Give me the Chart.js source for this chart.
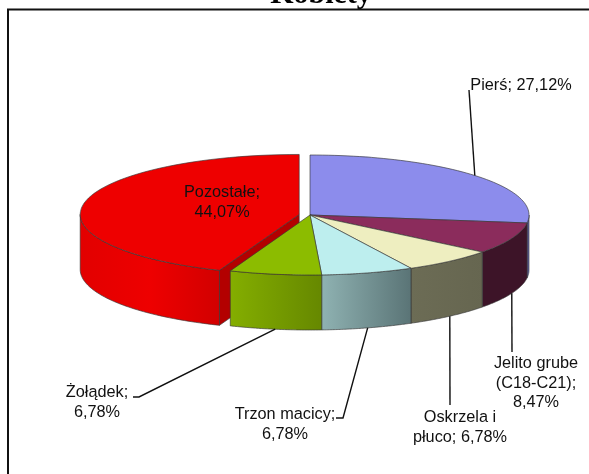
<!DOCTYPE html>
<html>
<head>
<meta charset="utf-8">
<style>
    html, body { margin: 0; padding: 0; background: #fff; overflow: hidden; }
    #wrap { width: 589px; height: 474px; }
</style>
<script src="https://cdn.jsdelivr.net/npm/chart.js@4"></script>
</head>
<body>
<div id="wrap"><canvas id="myChart" width="589" height="474"></canvas></div>
<script>
const categories = ["Pierś", "Jelito grube (C18-C21)", "Oskrzela i płuco", "Trzon macicy", "Żołądek", "Pozostałe"];
const values = [27.12, 8.47, 6.78, 6.78, 6.78, 44.07];
const labelLines = [
    ["Pierś; 27,12%"],
    ["Jelito grube", "(C18-C21);", "8,47%"],
    ["Oskrzela i", "płuco; 6,78%"],
    ["Trzon macicy;", "6,78%"],
    ["Żołądek;", "6,78%"],
    ["Pozostałe;", "44,07%"],
];
const topColors = ["#8c8cec", "#8b2c5c", "#eeeec0", "#bdeeee", "#8cbc00", "#ee0000"];
const wallColors = [
    ["#5e5ea0", "#5e5ea0"],
    ["#3d1428", "#3d1428"],
    ["#6c6c55", "#666650"],
    ["#8fb2b2", "#5a7476"],
    ["#84ae00", "#668800"],
    ["#e20000", "#ee0000", "#d20000"],
];

// screen geometry of the pie
const pie = { cx: 310, cy: 215, ry: 60, depth: 55, radius: 219 };
const explode = [0, 0, 0, 0, 0, 11];
const cutFace = "#b30000";
const edge = "rgba(55,55,55,0.65)";

// label centre x, first line y, leader start and optional elbow
const labelPlace = [
    { x: 521, y: 85, from: [469, 90] },
    { x: 536, y: 363, from: [512, 352] },
    { x: 460, y: 417, from: [450, 405] },
    { x: 285, y: 414, from: [336, 418], elbow: [343, 418] },
    { x: 97, y: 392, from: [133, 397], elbow: [139, 397] },
    { x: 222, y: 192 },
];

function shift(i, arc) {
    const mid = (arc.startAngle + arc.endAngle) / 2;
    return {
        x: Math.cos(mid) * explode[i],
        y: Math.sin(mid) * explode[i] * pie.ry / arc.outerRadius,
    };
}

function onPie(arc, s, angle, down) {
    return [
        pie.cx + s.x + Math.cos(angle) * arc.outerRadius,
        pie.cy + s.y + Math.sin(angle) * pie.ry + (down || 0),
    ];
}

function drawWall(ctx, i, arc) {
    const s = shift(i, arc);
    const a0 = Math.max(arc.startAngle, 0);
    const a1 = Math.min(arc.endAngle, Math.PI);
    if (a1 <= a0) return;

    const left = onPie(arc, s, a1);
    const right = onPie(arc, s, a0);
    const grad = ctx.createLinearGradient(left[0], 0, right[0], 0);
    const stops = wallColors[i];
    stops.forEach((c, n) => grad.addColorStop(n / (stops.length - 1), c));

    ctx.beginPath();
    for (let n = 0; n <= 60; n++) {
        const p = onPie(arc, s, a0 + (a1 - a0) * n / 60);
        n ? ctx.lineTo(p[0], p[1]) : ctx.moveTo(p[0], p[1]);
    }
    for (let n = 60; n >= 0; n--) {
        const p = onPie(arc, s, a0 + (a1 - a0) * n / 60, pie.depth);
        ctx.lineTo(p[0], p[1]);
    }
    ctx.closePath();
    ctx.fillStyle = grad;
    ctx.fill();
    ctx.strokeStyle = edge;
    ctx.lineWidth = 1;
    ctx.stroke();
}

function drawCut(ctx, i, arc) {
    const s = shift(i, arc);
    const tipX = pie.cx + s.x;
    const tipY = pie.cy + s.y;
    const p = onPie(arc, s, arc.startAngle);
    ctx.beginPath();
    ctx.moveTo(tipX, tipY);
    ctx.lineTo(p[0], p[1]);
    ctx.lineTo(p[0], p[1] + pie.depth);
    ctx.lineTo(tipX, tipY + pie.depth);
    ctx.closePath();
    ctx.fillStyle = cutFace;
    ctx.fill();
    ctx.strokeStyle = edge;
    ctx.lineWidth = 1;
    ctx.stroke();
}

function drawTop(ctx, chart, i, arc) {
    const s = shift(i, arc);
    ctx.save();
    ctx.translate(pie.cx + s.x, pie.cy + s.y);
    ctx.scale(1, pie.ry / arc.outerRadius);
    ctx.translate(-arc.x, -arc.y);
    arc.draw(ctx, chart.chartArea);
    ctx.restore();

    ctx.beginPath();
    ctx.moveTo(pie.cx + s.x, pie.cy + s.y);
    for (let n = 0; n <= 60; n++) {
        const p = onPie(arc, s, arc.startAngle + (arc.endAngle - arc.startAngle) * n / 60);
        ctx.lineTo(p[0], p[1]);
    }
    ctx.closePath();
    ctx.strokeStyle = edge;
    ctx.lineWidth = 1;
    ctx.stroke();
}

function drawLabels(ctx, arcs) {
    ctx.textAlign = "center";
    ctx.textBaseline = "middle";
    ctx.font = "16.3px 'Liberation Sans'";
    ctx.fillStyle = "#111";
    labelLines.forEach((lines, i) => {
        const place = labelPlace[i];
        lines.forEach((t, n) => ctx.fillText(t, place.x, place.y + 1 + n * 19.5));
        if (!place.from) return;

        // leader ends on the rim at the middle of the slice
        const arc = arcs[i];
        const mid = (arc.startAngle + arc.endAngle) / 2;
        const end = onPie(arc, { x: 0, y: 0 }, mid, Math.sin(mid) > 0.2 ? pie.depth : 0);
        ctx.beginPath();
        ctx.moveTo(place.from[0], place.from[1]);
        if (place.elbow) ctx.lineTo(place.elbow[0], place.elbow[1]);
        ctx.lineTo(end[0], end[1]);
        ctx.strokeStyle = "#111";
        ctx.lineWidth = 1.4;
        ctx.stroke();
    });
}

const pie3d = {
    id: "pie3d",
    beforeDatasetsDraw(chart) {
        const ctx = chart.ctx;
        const arcs = chart.getDatasetMeta(0).data;

        ctx.fillStyle = "#fff";
        ctx.fillRect(0, 0, chart.width, chart.height);

        // title sits cut off by the top of the picture
        ctx.textAlign = "center";
        ctx.textBaseline = "alphabetic";
        ctx.font = "bold 30px 'Liberation Serif'";
        ctx.fillStyle = "#000";
        ctx.fillText("Kobiety", 321, 3);

        // frame runs off the right and the bottom
        ctx.beginPath();
        ctx.moveTo(8, chart.height);
        ctx.lineTo(8, 9.5);
        ctx.lineTo(chart.width, 9.5);
        ctx.strokeStyle = "#111";
        ctx.lineWidth = 2;
        ctx.stroke();

        arcs.forEach((arc, i) => { if (explode[i]) drawCut(ctx, i, arc); });
        [5, 0, 1, 2, 3, 4].forEach(i => drawWall(ctx, i, arcs[i]));
        arcs.forEach((arc, i) => drawTop(ctx, chart, i, arc));
        drawLabels(ctx, arcs);
        return false;
    },
};

new Chart(document.getElementById("myChart").getContext("2d"), {
    type: "pie",
    data: {
        labels: categories,
        datasets: [
            {
                data: values,
                backgroundColor: topColors,
                borderWidth: 0,
            },
        ],
    },
    options: {
        responsive: false,
        animation: false,
        radius: pie.radius,
        plugins: {
            legend: { display: false },
            tooltip: { enabled: false },
        },
    },
    plugins: [pie3d],
});
</script>
</body>
</html>
